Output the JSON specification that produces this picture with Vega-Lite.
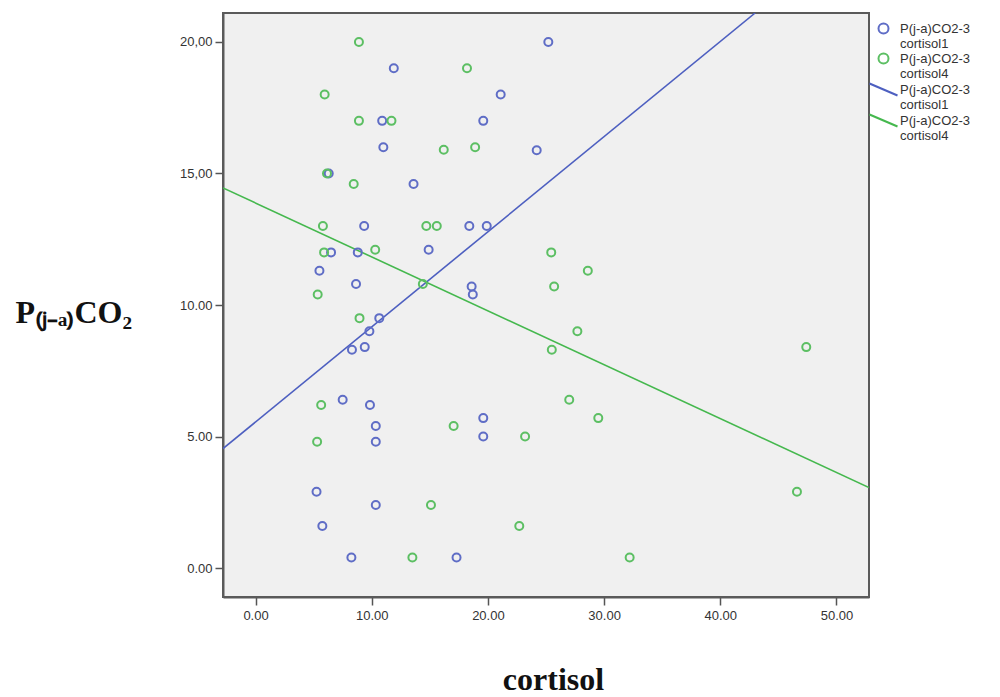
{
  "$schema": "https://vega.github.io/schema/vega-lite/v6.json",
  "autosize": "none",
  "width": 646,
  "height": 584,
  "padding": {"left": 223, "top": 13, "right": 131, "bottom": 100},
  "background": "white",
  "config": {
    "view": {"fill": "#f0f0f0", "stroke": "#5a5a5a", "strokeWidth": 2},
    "axis": {
      "labelFont": "Liberation Sans",
      "labelFontSize": 13,
      "labelColor": "#333333",
      "tickColor": "#555555",
      "domainColor": "#5a5a5a",
      "domainWidth": 2,
      "tickWidth": 1.5,
      "grid": false
    }
  },
  "datasets": {
    "points": [
      {"series": "a", "cortisol": 25.2, "pco2": 20.0},
      {"series": "a", "cortisol": 11.9, "pco2": 19.0},
      {"series": "a", "cortisol": 21.1, "pco2": 18.0},
      {"series": "a", "cortisol": 10.9, "pco2": 17.0},
      {"series": "a", "cortisol": 19.6, "pco2": 17.0},
      {"series": "a", "cortisol": 11.0, "pco2": 16.0},
      {"series": "a", "cortisol": 24.2, "pco2": 15.88},
      {"series": "a", "cortisol": 6.3, "pco2": 15.0},
      {"series": "a", "cortisol": 13.6, "pco2": 14.6},
      {"series": "a", "cortisol": 9.35, "pco2": 13.0},
      {"series": "a", "cortisol": 18.4, "pco2": 13.0},
      {"series": "a", "cortisol": 19.9, "pco2": 13.0},
      {"series": "a", "cortisol": 6.5, "pco2": 12.0},
      {"series": "a", "cortisol": 8.8, "pco2": 12.0},
      {"series": "a", "cortisol": 14.9, "pco2": 12.1},
      {"series": "a", "cortisol": 5.5, "pco2": 11.3},
      {"series": "a", "cortisol": 8.65, "pco2": 10.8},
      {"series": "a", "cortisol": 18.6, "pco2": 10.7},
      {"series": "a", "cortisol": 18.7, "pco2": 10.4},
      {"series": "a", "cortisol": 10.65, "pco2": 9.5},
      {"series": "a", "cortisol": 9.8, "pco2": 9.0},
      {"series": "a", "cortisol": 8.3, "pco2": 8.3},
      {"series": "a", "cortisol": 9.4, "pco2": 8.4},
      {"series": "a", "cortisol": 7.5, "pco2": 6.4},
      {"series": "a", "cortisol": 9.85, "pco2": 6.2},
      {"series": "a", "cortisol": 10.35, "pco2": 5.4},
      {"series": "a", "cortisol": 10.35, "pco2": 4.8},
      {"series": "a", "cortisol": 19.6, "pco2": 5.7},
      {"series": "a", "cortisol": 19.6, "pco2": 5.0},
      {"series": "a", "cortisol": 5.25, "pco2": 2.9},
      {"series": "a", "cortisol": 10.35, "pco2": 2.4},
      {"series": "a", "cortisol": 5.75, "pco2": 1.6},
      {"series": "a", "cortisol": 8.25, "pco2": 0.4},
      {"series": "a", "cortisol": 17.3, "pco2": 0.4},
      {"series": "b", "cortisol": 8.9, "pco2": 20.0},
      {"series": "b", "cortisol": 18.2, "pco2": 19.0},
      {"series": "b", "cortisol": 5.95, "pco2": 18.0},
      {"series": "b", "cortisol": 8.9, "pco2": 17.0},
      {"series": "b", "cortisol": 11.7, "pco2": 17.0},
      {"series": "b", "cortisol": 16.2, "pco2": 15.9},
      {"series": "b", "cortisol": 18.9, "pco2": 16.0},
      {"series": "b", "cortisol": 6.15, "pco2": 15.0},
      {"series": "b", "cortisol": 8.45, "pco2": 14.6},
      {"series": "b", "cortisol": 5.8, "pco2": 13.0},
      {"series": "b", "cortisol": 14.7, "pco2": 13.0},
      {"series": "b", "cortisol": 15.6, "pco2": 13.0},
      {"series": "b", "cortisol": 5.9, "pco2": 12.0},
      {"series": "b", "cortisol": 10.3, "pco2": 12.1},
      {"series": "b", "cortisol": 5.35, "pco2": 10.4},
      {"series": "b", "cortisol": 14.4, "pco2": 10.8},
      {"series": "b", "cortisol": 8.95, "pco2": 9.5},
      {"series": "b", "cortisol": 5.65, "pco2": 6.2},
      {"series": "b", "cortisol": 5.3, "pco2": 4.8},
      {"series": "b", "cortisol": 17.05, "pco2": 5.4},
      {"series": "b", "cortisol": 15.1, "pco2": 2.4},
      {"series": "b", "cortisol": 13.5, "pco2": 0.4},
      {"series": "b", "cortisol": 25.45, "pco2": 12.0},
      {"series": "b", "cortisol": 28.6, "pco2": 11.3},
      {"series": "b", "cortisol": 25.7, "pco2": 10.7},
      {"series": "b", "cortisol": 27.7, "pco2": 9.0},
      {"series": "b", "cortisol": 25.5, "pco2": 8.3},
      {"series": "b", "cortisol": 47.4, "pco2": 8.4},
      {"series": "b", "cortisol": 27.0, "pco2": 6.4},
      {"series": "b", "cortisol": 29.5, "pco2": 5.7},
      {"series": "b", "cortisol": 23.2, "pco2": 5.0},
      {"series": "b", "cortisol": 46.6, "pco2": 2.9},
      {"series": "b", "cortisol": 22.7, "pco2": 1.6},
      {"series": "b", "cortisol": 32.2, "pco2": 0.4}
    ],
    "fits": [
      {"series": "c", "cortisol": -2.8, "pco2": 4.54},
      {"series": "c", "cortisol": 43.0, "pco2": 21.1},
      {"series": "d", "cortisol": -2.8, "pco2": 14.45},
      {"series": "d", "cortisol": 52.8, "pco2": 3.06}
    ]
  },
  "layer": [
    {
      "data": {"name": "fits"},
      "mark": {"type": "line", "strokeWidth": 1.6, "clip": true},
      "encoding": {
        "x": {"field": "cortisol", "type": "quantitative"},
        "y": {"field": "pco2", "type": "quantitative"},
        "color": {"field": "series", "type": "nominal"},
        "detail": {"field": "series"}
      }
    },
    {
      "data": {"name": "points"},
      "mark": {"type": "point", "filled": false, "size": 64, "strokeWidth": 2, "opacity": 1},
      "encoding": {
        "x": {
          "field": "cortisol",
          "type": "quantitative",
          "scale": {"domain": [-2.8, 52.8], "nice": false, "zero": false},
          "axis": {
            "values": [0, 10, 20, 30, 40, 50],
            "format": ".2f",
            "tickSize": 8,
            "labelPadding": 4,
            "title": "cortisol",
            "titleFont": "Liberation Serif",
            "titleFontSize": 32,
            "titleFontWeight": "bold",
            "titleColor": "#111111",
            "titleX": 330,
            "titleY": 92,
            "titleAlign": "center",
            "titleBaseline": "alphabetic"
          }
        },
        "y": {
          "field": "pco2",
          "type": "quantitative",
          "scale": {"domain": [-1.1, 21.1], "nice": false, "zero": false},
          "axis": {
            "values": [0, 5, 10, 15, 20],
            "labelExpr": "datum.value >= 15 ? replace(format(datum.value, '.2f'), '.', ',') : format(datum.value, '.2f')",
            "tickSize": 8,
            "labelPadding": 3,
            "title": "P₍ⱼ₋ₐ₎CO₂",
            "titleFont": "Liberation Serif",
            "titleFontSize": 32,
            "titleFontWeight": "bold",
            "titleColor": "#111111",
            "titleAngle": 0,
            "titleAlign": "left",
            "titleBaseline": "alphabetic",
            "titleX": -208,
            "titleY": 309
          }
        },
        "color": {
          "field": "series",
          "type": "nominal",
          "scale": {
            "domain": ["a", "b", "c", "d"],
            "range": ["#5f6dc6", "#5cbf63", "#4d5fc0", "#45b84e"]
          },
          "legend": {
            "title": null,
            "orient": "none",
            "legendX": 654,
            "legendY": 9,
            "padding": 0,
            "symbolSize": 100,
            "symbolStrokeWidth": 2,
            "rowPadding": -2,
            "labelFont": "Liberation Sans",
            "labelFontSize": 13,
            "labelColor": "#333333",
            "labelOffset": 10,
            "labelExpr": "(datum.value == 'a' || datum.value == 'c') ? ['P(j-a)CO2-3', 'cortisol1'] : ['P(j-a)CO2-3', 'cortisol4']"
          }
        },
        "shape": {
          "field": "series",
          "type": "nominal",
          "scale": {
            "domain": ["a", "b", "c", "d"],
            "range": ["circle", "circle", "M-2.8,-1.2L2.8,1.2", "M-2.8,-1.2L2.8,1.2"]
          },
          "legend": {
            "title": null,
            "orient": "none",
            "legendX": 654,
            "legendY": 9,
            "padding": 0,
            "symbolSize": 100,
            "symbolStrokeWidth": 2,
            "rowPadding": -2,
            "labelFont": "Liberation Sans",
            "labelFontSize": 13,
            "labelColor": "#333333",
            "labelOffset": 10,
            "labelExpr": "(datum.value == 'a' || datum.value == 'c') ? ['P(j-a)CO2-3', 'cortisol1'] : ['P(j-a)CO2-3', 'cortisol4']"
          }
        }
      }
    }
  ]
}
